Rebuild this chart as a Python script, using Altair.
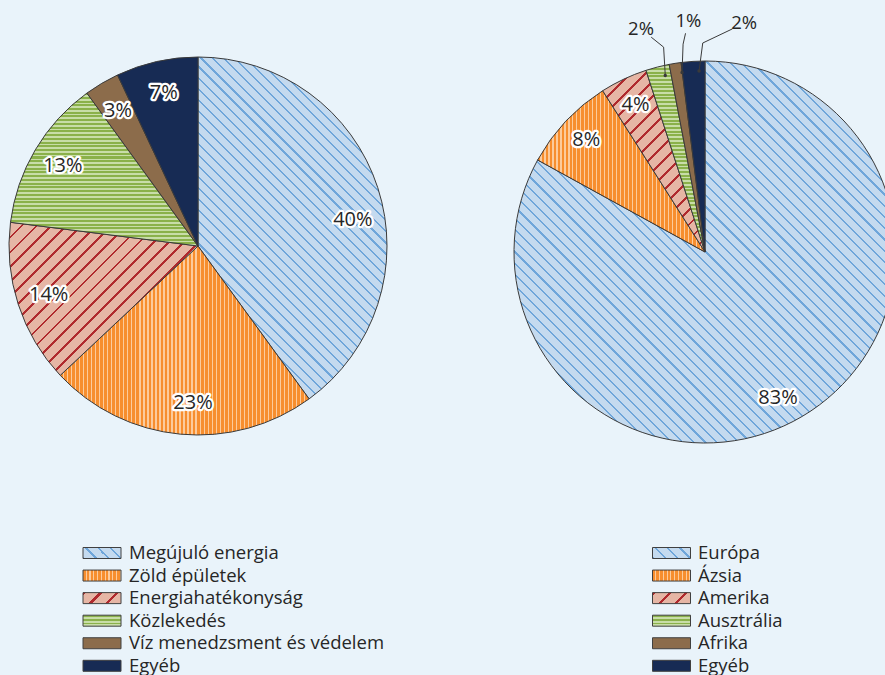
import math
import altair as alt
import pandas as pd

# ---------------- data ----------------
LEFT_CATEGORIES = ["Megújuló energia", "Zöld épületek", "Energiahatékonyság",
                   "Közlekedés", "Víz menedzsment és védelem", "Egyéb"]
LEFT_VALUES = [40, 23, 14, 13, 3, 7]

RIGHT_CATEGORIES = ["Európa", "Ázsia", "Amerika", "Ausztrália", "Afrika", "Egyéb"]
RIGHT_VALUES = [83, 8, 4, 2, 1, 2]

# ---------------- styles ----------------
BG = "#E9F3FA"
EDGE = "#3A3A3A"
TEXT = "#262626"
FONT = "Open Sans"

# (kind, line colour, base colour, stripe spacing px, line width px)
PATTERNS = [
    ("bdiag", "#6FA6DA", "#C4DAEF", 7.9, 1.5),
    ("vert", "#F78E2E", "#FCCB9C", 4.0, 2.8),
    ("fdiag", "#B02A2E", "#E6B6A5", 10.6, 2.0),
    ("horiz", "#8AB14A", "#C8DDA8", 3.7, 2.0),
    ("solid", "#8C6C4B"),
    ("solid", "#172B54"),
]

LEFT_PIE = dict(cx=198, cy=246, r=189, label_r=157)
RIGHT_PIE = dict(cx=705, cy=252, r=191, label_r=163)
# label angle nudges (degrees) relative to slice mid-angle
LEFT_NUDGE = {0: 8.5, 1: -3.6}
RIGHT_NUDGE = {0: 4.0, 3: -1.6, 4: 4.9, 5: 13.3}

LEGEND_SYMBOL = "M-3.4545,-1H3.4545V1H-3.4545Z"  # 38 x 11 px at size 121


def make_fill(pattern, w, h):
    kind = pattern[0]
    if kind == "solid":
        return pattern[1]
    _, line, base, spacing, lw = pattern
    s2 = math.sqrt(2)
    if kind == "bdiag":
        t = (w + h) / (w * w + h * h)
        x1, y1, x2, y2 = 0, 1, t * w, 1 - t * h
        ext = (w + h) / s2
    elif kind == "fdiag":
        t = (w + h) / (w * w + h * h)
        x1, y1, x2, y2 = 0, 0, t * w, t * h
        ext = (w + h) / s2
    elif kind == "vert":
        x1, y1, x2, y2 = 0, 0, 1, 0
        ext = w
    else:
        x1, y1, x2, y2 = 0, 0, 1e-6, 1
        ext = h
    n = max(1, round(ext / spacing))
    f = lw / spacing
    stops = []
    for k in range(n):
        a, b, c = k / n, (k + f) / n, (k + 1) / n
        stops += [
            {"offset": round(a, 5), "color": line},
            {"offset": round(b, 5), "color": line},
            {"offset": round(b, 5), "color": base},
            {"offset": round(c, 5), "color": base},
        ]
    return {"gradient": "linear", "x1": x1, "y1": y1, "x2": x2, "y2": y2, "stops": stops}


def sector_box(a0, a1, r):
    angs = [a0, a1] + [k for k in (90, 180, 270) if a0 < k < a1]
    pts = [(0.0, 0.0)] + [(r * math.sin(math.radians(a)), -r * math.cos(math.radians(a))) for a in angs]
    xs = [p[0] for p in pts]
    ys = [p[1] for p in pts]
    return max(xs) - min(xs), max(ys) - min(ys)


def cond_fill(fills):
    return {
        "condition": [{"test": f"datum.idx === {i}", "value": f} for i, f in enumerate(fills)],
        "value": "#000000",
    }


def nudge_expr(nudges):
    expr = "0"
    for i, d in nudges.items():
        expr = f"(datum.idx === {i} ? {d} : {expr})"
    return expr


XS = alt.Scale(domain=[0, 885], range=[0, 885])
YS = alt.Scale(domain=[0, 675], range=[0, 675])


def pie_layers(cats, vals, cfg, nudges):
    df = pd.DataFrame({"cat": cats, "v": vals, "idx": list(range(len(cats)))})
    total = sum(vals)
    cum = 0
    fills = []
    for i, v in enumerate(vals):
        a0 = 360 * cum / total
        cum += v
        a1 = 360 * cum / total
        w, h = sector_box(a0, a1, cfg["r"])
        fills.append(make_fill(PATTERNS[i], w, h))
    base = alt.Chart(df)
    cx, cy = cfg["cx"], cfg["cy"]
    arcs = base.mark_arc(outerRadius=cfg["r"], stroke=EDGE, strokeWidth=1).encode(
        theta=alt.Theta("v:Q", stack=True),
        order=alt.Order("idx:Q", sort="ascending"),
        detail="cat:N",
        fill=cond_fill(fills),
        x=alt.value(cx),
        y=alt.value(cy),
    )
    lab = (
        base.transform_joinaggregate(total="sum(v)")
        .transform_window(cum="sum(v)", sort=[alt.SortField("idx", order="ascending")])
        .transform_calculate(tpos=f"datum.cum - datum.v/2 + {nudge_expr(nudges)}*datum.total/360")
        .transform_calculate(lab="datum.v + '%'")
    )
    inner = lab.transform_filter("datum.v >= 3")
    enc = dict(
        theta=alt.Theta("tpos:Q", stack=None),
        x=alt.value(cx),
        y=alt.value(cy),
        text="lab:N",
    )
    halo = inner.mark_text(radius=cfg["label_r"], font=FONT, fontSize=20, fill="white",
                           stroke="white", strokeWidth=4.5, strokeJoin="round").encode(**enc)
    txt = inner.mark_text(radius=cfg["label_r"], font=FONT, fontSize=20, fill=TEXT).encode(**enc)
    layers = [arcs], [halo, txt]
    extra = []
    if min(vals) < 3:
        ra, rb, rl = cfg["r"] - 10, cfg["r"] + 18, cfg["r"] + 41
        outer = (
            lab.transform_filter("datum.v < 3")
            .transform_calculate(mid="2*PI*(datum.cum - datum.v/2)/datum.total")
            .transform_calculate(la="2*PI*datum.tpos/datum.total")
            .transform_calculate(ax=f"{cx}+{ra}*sin(datum.mid+0.03)")
            .transform_calculate(ay=f"{cy}-{ra}*cos(datum.mid+0.03)")
            .transform_calculate(bx=f"{cx}+{rb}*sin(datum.mid+0.052)")
            .transform_calculate(by=f"{cy}-{rb}*cos(datum.mid+0.052)")
            .transform_calculate(lx=f"{cx}+{rl}*sin(datum.la)")
            .transform_calculate(ly=f"{cy}-{rl}*cos(datum.la)")
            .transform_calculate(dd="sqrt(pow(datum.bx-datum.lx,2)+pow(datum.by-datum.ly,2))")
            .transform_calculate(ex="datum.lx + 13*(datum.bx-datum.lx)/datum.dd")
            .transform_calculate(ey="datum.ly + 13*(datum.by-datum.ly)/datum.dd")
        )
        seg1 = outer.mark_rule(color=EDGE, strokeWidth=1).encode(
            x=alt.X("ax:Q", scale=XS, axis=None), y=alt.Y("ay:Q", scale=YS, axis=None),
            x2="bx:Q", y2="by:Q")
        seg2 = outer.mark_rule(color=EDGE, strokeWidth=1).encode(
            x=alt.X("bx:Q", scale=XS, axis=None), y=alt.Y("by:Q", scale=YS, axis=None),
            x2="ex:Q", y2="ey:Q")
        dot = outer.mark_point(filled=True, size=12, color=EDGE, opacity=1).encode(
            x=alt.X("ax:Q", scale=XS, axis=None), y=alt.Y("ay:Q", scale=YS, axis=None))
        otxt = outer.mark_text(font=FONT, fontSize=18.5, fill=TEXT).encode(
            x=alt.X("lx:Q", scale=XS, axis=None), y=alt.Y("ly:Q", scale=YS, axis=None),
            text="lab:N")
        extra = [seg1, seg2, dot, otxt]
    return layers[0], layers[1] + extra


def legend_layers(cats, sym_x, text_x):
    df = pd.DataFrame({"cat": cats, "idx": list(range(len(cats)))})
    fills = [make_fill(PATTERNS[i], 38, 11) for i in range(len(cats))]
    ys = alt.Scale(domain=list(range(len(cats))), range=[553, 665.8], padding=0)
    base = alt.Chart(df)
    sym = base.mark_point(shape=LEGEND_SYMBOL, size=121, filled=True, opacity=1,
                          stroke="#404040", strokeWidth=1).encode(
        y=alt.Y("idx:O", scale=ys, axis=None),
        x=alt.value(sym_x),
        fill=cond_fill(fills),
    )
    txt = base.mark_text(align="left", baseline="middle", font=FONT, fontSize=18.5, fill=TEXT, dy=0).encode(
        y=alt.Y("idx:O", scale=ys, axis=None),
        x=alt.value(text_x),
        text="cat:N",
    )
    return [sym, txt]


l_arcs, l_labels = pie_layers(LEFT_CATEGORIES, LEFT_VALUES, LEFT_PIE, LEFT_NUDGE)
r_arcs, r_labels = pie_layers(RIGHT_CATEGORIES, RIGHT_VALUES, RIGHT_PIE, RIGHT_NUDGE)

layers = (l_arcs + r_arcs + l_labels + r_labels
          + legend_layers(LEFT_CATEGORIES, 102, 129)
          + legend_layers(RIGHT_CATEGORIES, 671.5, 698))

chart = (
    alt.layer(*layers)
    .resolve_scale(x="independent", y="independent")
    .properties(width=885, height=675, padding=0, autosize="none", background=BG)
    .configure_view(stroke=None)
)

chart.save("out.html", embed_options={"renderer": "svg", "actions": False})
